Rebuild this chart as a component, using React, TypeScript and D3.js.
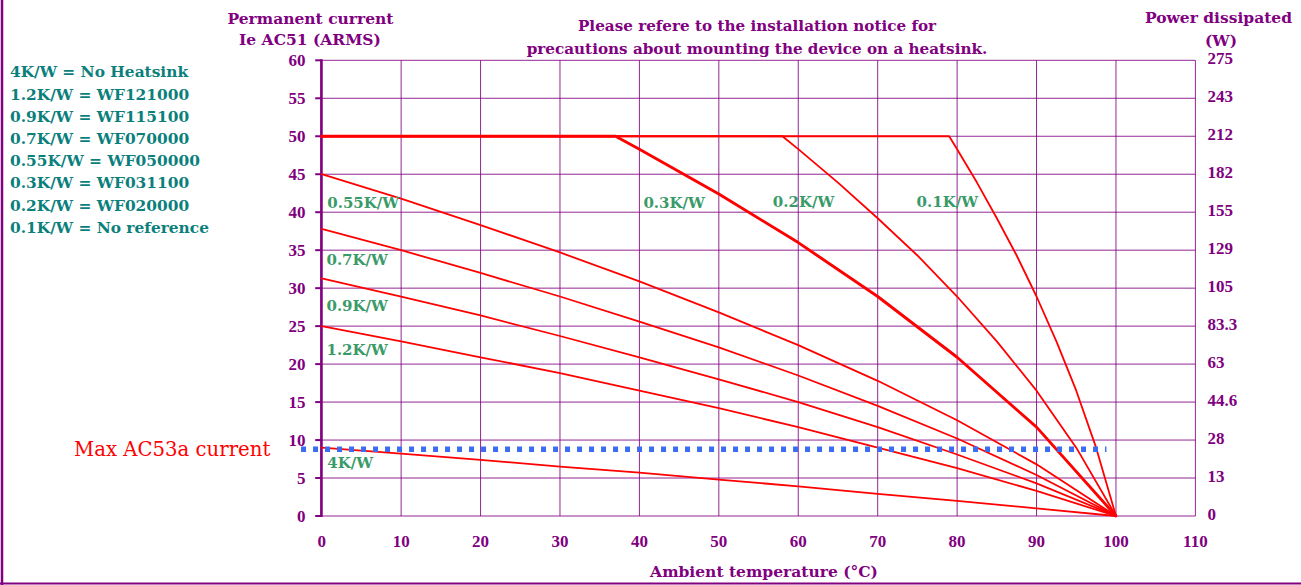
import React from "react";
import * as d3 from "d3";

// ---------- DATA ----------
const xTickValues = [0, 10, 20, 30, 40, 50, 60, 70, 80, 90, 100, 110];
const yTickValues = [0, 5, 10, 15, 20, 25, 30, 35, 40, 45, 50, 55, 60];
const powerLabels = ["0", "13", "28", "44.6", "63", "83.3", "105", "129", "155", "182", "212", "243", "275"];

const tempsMain = [0, 10, 20, 30, 40, 50, 60, 70, 80, 90, 100];
const current4KW = [9.0, 8.2, 7.4, 6.5, 5.7, 4.8, 3.9, 2.9, 2.0, 1.0, 0];
const current12KW = [25.0, 23.0, 20.9, 18.8, 16.5, 14.2, 11.7, 9.0, 6.3, 3.3, 0];
const current09KW = [31.3, 28.9, 26.4, 23.7, 20.9, 18.0, 15.0, 11.7, 8.1, 4.3, 0];
const current07KW = [37.8, 35.0, 32.0, 28.9, 25.6, 22.2, 18.5, 14.5, 10.2, 5.4, 0];
const current055KW = [45.0, 41.8, 38.3, 34.7, 30.9, 26.8, 22.5, 17.8, 12.6, 6.8, 0];

const temps03KW = [0, 37, 40, 50, 60, 70, 80, 90, 100];
const current03KW = [50, 50, 48.3, 42.4, 36.0, 28.9, 20.9, 11.7, 0];

const temps02KW = [0, 58, 60, 65, 70, 75, 80, 85, 90, 95, 100];
const current02KW = [50, 50, 48.3, 43.9, 39.2, 34.3, 28.9, 23.0, 16.5, 9.0, 0];

const temps01KW = [0, 79, 80, 82.5, 85, 87.5, 90, 92.5, 95, 97.5, 100];
const current01KW = [50, 50, 48.3, 43.9, 39.2, 34.3, 28.9, 23.0, 16.5, 9.0, 0];

const maxAC53a = 8.8;
const maxAC53aRange = [-2.6, 98.8];

const legendLines = [
  "4K/W = No Heatsink",
  "1.2K/W = WF121000",
  "0.9K/W = WF115100",
  "0.7K/W = WF070000",
  "0.55K/W = WF050000",
  "0.3K/W = WF031100",
  "0.2K/W = WF020000",
  "0.1K/W = No reference",
];

const seriesLabelNames = ["0.55K/W", "0.7K/W", "0.9K/W", "1.2K/W", "4K/W", "0.3K/W", "0.2K/W", "0.1K/W"];
const seriesLabelX = [0.7, 0.6, 0.6, 0.6, 0.7, 40.5, 56.8, 74.9];
const seriesLabelY = [40.6, 33.0, 27.0, 21.2, 6.3, 40.6, 40.7, 40.7];

// ---------- STYLE ----------
const W = 1301;
const H = 585;
const PURPLE = "#800080";
const RED = "#ff0000";
const TEAL = "#0b7f7c";
const GREEN = "#3a9a68";
const BLUE = "#3a6cf4";
const serifTitle = "'DejaVu Serif', serif";
const serifTick = "'Liberation Serif', 'Times New Roman', serif";

export default function App() {
  const x = d3.scaleLinear().domain([0, 110]).range([321.7, 1195.4]);
  const y = d3.scaleLinear().domain([0, 60]).range([516, 60.3]);

  const line = d3
    .line<[number, number]>()
    .x((d) => x(d[0]))
    .y((d) => y(d[1]));

  const series = [
    { t: tempsMain, c: current4KW, w: 1.8 },
    { t: tempsMain, c: current12KW, w: 1.8 },
    { t: tempsMain, c: current09KW, w: 1.8 },
    { t: tempsMain, c: current07KW, w: 1.8 },
    { t: tempsMain, c: current055KW, w: 1.8 },
    { t: temps01KW, c: current01KW, w: 1.8 },
    { t: temps02KW, c: current02KW, w: 1.8 },
    { t: temps03KW, c: current03KW, w: 2.9 },
  ];

  const x0 = x(0);

  return (
    <svg
      width={W}
      height={H}
      style={{ position: "absolute", left: 0, top: 0, background: "#fff" }}
    >
      {/* frame */}
      <line x1={2} y1={0} x2={2} y2={H} stroke={PURPLE} strokeWidth={2.5} />
      <line x1={0} y1={583.5} x2={W} y2={583.5} stroke={PURPLE} strokeWidth={2} />

      {/* grid */}
      <g stroke={PURPLE} strokeWidth={1} strokeOpacity={0.85}>
        {yTickValues.map((v) => (
          <line key={"h" + v} x1={x0} x2={x(110)} y1={y(v)} y2={y(v)} />
        ))}
        {xTickValues.map((v) => (
          <line key={"v" + v} x1={x(v)} x2={x(v)} y1={y(0)} y2={y(60)} />
        ))}
      </g>

      {/* left axis */}
      <line x1={x0 - 0.3} x2={x0 - 0.3} y1={y(0) + 1} y2={y(60) - 1} stroke={PURPLE} strokeWidth={2.6} />
      {yTickValues.map((v) => (
        <line key={"t" + v} x1={x0 - 6.5} x2={x0} y1={y(v)} y2={y(v)} stroke={PURPLE} strokeWidth={2} />
      ))}

      {/* tick labels */}
      <g fill={PURPLE} fontFamily={serifTick} fontWeight="bold" fontSize={17}>
        {yTickValues.map((v) => (
          <text key={"yl" + v} x={305.5} y={y(v)} dy="0.34em" textAnchor="end">
            {v}
          </text>
        ))}
        {xTickValues.map((v) => (
          <text key={"xl" + v} x={x(v)} y={547} textAnchor="middle">
            {v}
          </text>
        ))}
        {powerLabels.map((p, i) => (
          <text key={"pl" + i} x={1207.5} y={y(yTickValues[i]) - 2} dy="0.34em" textAnchor="start">
            {p}
          </text>
        ))}
      </g>

      {/* curves */}
      <g fill="none" stroke={RED} strokeLinejoin="round" strokeLinecap="round">
        {series.map((s, i) => (
          <path
            key={"s" + i}
            d={line(s.t.map((t, k) => [t, s.c[k]] as [number, number])) || ""}
            strokeWidth={s.w}
          />
        ))}
      </g>

      {/* Max AC53a current */}
      <line
        x1={x(maxAC53aRange[0])}
        x2={x(maxAC53aRange[1])}
        y1={y(maxAC53a)}
        y2={y(maxAC53a)}
        stroke={BLUE}
        strokeWidth={5.5}
        strokeDasharray="5 7"
      />
      <text x={74} y={456} fill={RED} fontFamily={serifTitle} fontSize={19.7}>
        Max AC53a current
      </text>

      {/* series labels */}
      <g fill={GREEN} fontFamily={serifTitle} fontWeight="bold" fontSize={15}>
        {seriesLabelNames.map((n, i) => (
          <text key={"sl" + i} x={x(seriesLabelX[i])} y={y(seriesLabelY[i])}>
            {n}
          </text>
        ))}
      </g>

      {/* legend */}
      <g fill={TEAL} fontFamily={serifTitle} fontWeight="bold" fontSize={15.4}>
        {legendLines.map((l, i) => (
          <text key={"lg" + i} x={10} y={77.3 + i * 22.2}>
            {l}
          </text>
        ))}
      </g>

      {/* titles */}
      <g fill={PURPLE} fontFamily={serifTitle} fontWeight="bold" fontSize={15.5}>
        <text x={310.5} y={23.5} textAnchor="middle">Permanent current</text>
        <text x={310} y={45} textAnchor="middle">Ie AC51 (ARMS)</text>
        <text x={1218.5} y={23} textAnchor="middle">Power dissipated</text>
        <text x={1221} y={45.5} textAnchor="middle">(W)</text>
        <text x={757} y={31} textAnchor="middle" fontSize={15.2}>Please refere to the installation notice for</text>
        <text x={757} y={54} textAnchor="middle" fontSize={15.2}>precautions about mounting the device on a heatsink.</text>
        <text x={764} y={577} textAnchor="middle">Ambient temperature (°C)</text>
      </g>
    </svg>
  );
}
